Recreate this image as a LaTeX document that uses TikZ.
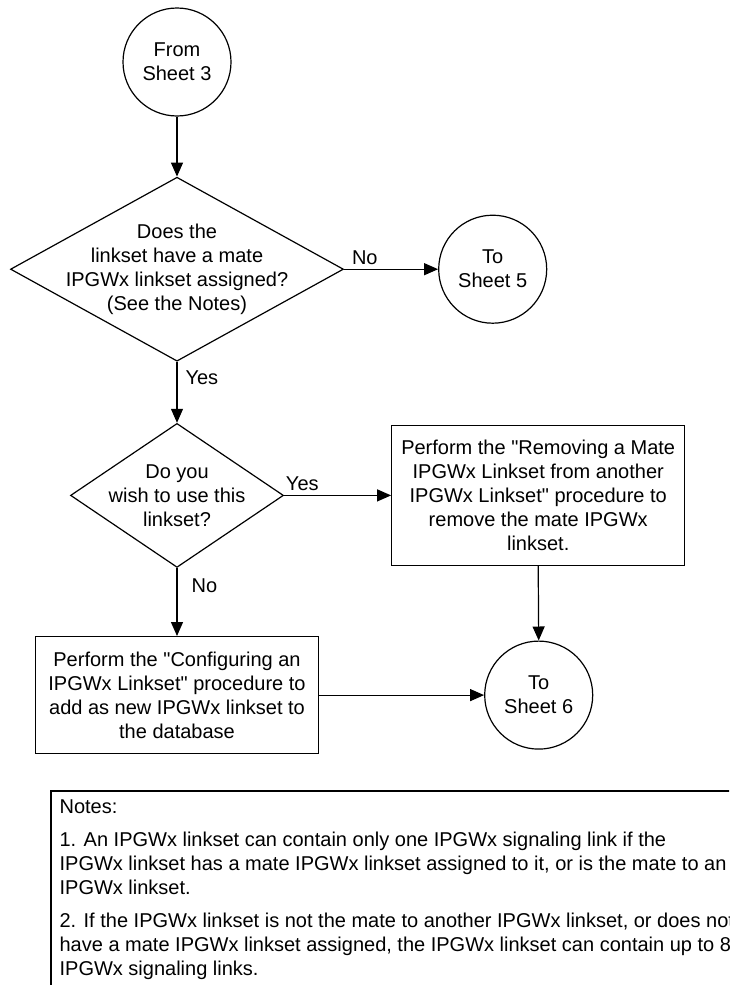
\documentclass[tikz,border=0pt]{standalone}
\usepackage{fontspec}
\setmainfont{Liberation Sans}[Ligatures=TeXOff]
\usetikzlibrary{positioning,arrows.meta,shapes.geometric}

\begin{document}
\begin{tikzpicture}[x=0.5pt, y=-0.5pt, font=\fontsize{10}{12}\selectfont, line width=0.6pt,
    sheet/.style={draw, circle, minimum size=54pt, inner sep=0pt, align=center},
    decision/.style={draw, diamond, inner sep=0pt},
    proc/.style={draw, rectangle, inner sep=0pt, align=center},
    flow/.style={-{Triangle[length=7pt, width=6pt]}},
    lbl/.style={inner sep=0pt}]
    \clip (0,0) rectangle (729,985);
    \node[sheet] (from) at (177,62) {From\\ Sheet 3};
    \node[decision, minimum width=166.5pt, minimum height=92pt, below=30pt of from,
      label={[align=center]center:Does the\\ linkset have a mate\\ IPGWx linkset assigned?\\ (See the Notes)}] (mate) {};
    \node[sheet, right=47pt of mate] (to5) {To\\ Sheet 5};
    \node[decision, minimum width=106.5pt, minimum height=72pt, below=30.5pt of mate,
      label={[align=center]center:Do you\\ wish to use this\\ linkset?}] (use) {};
    \node[proc, minimum width=146.5pt, minimum height=70pt, right=53.5pt of use] (remove)
      {Perform the "Removing a Mate\\ IPGWx Linkset from another\\ IPGWx Linkset" procedure to\\ remove the mate IPGWx\\ linkset.};
    \node[proc, minimum width=141.5pt, minimum height=58.5pt, below=34pt of use] (config)
      {Perform the "Configuring an\\ IPGWx Linkset" procedure to\\ add as new IPGWx linkset to\\ the database};
    \node[sheet, right=82.5pt of config] (to6) {To\\ Sheet 6};

    \draw[flow] (from) -- (mate);
    \draw[flow] (mate) -- node[lbl, above=2pt, pos=0.22] {No} (to5);
    \draw[flow] (mate) -- node[lbl, right=4pt, pos=0.26] {Yes} (use);
    \draw[flow] (use) -- node[lbl, above=2pt, pos=0.17] {Yes} (remove);
    \draw[flow] (use) -- node[lbl, right=7pt, pos=0.26] {No} (config);
    \draw[flow] (remove.south) -- (to6.north);
    \draw[flow] (config) -- (to6);

    % notes
    \node[anchor=north west, align=left, inner sep=0pt] (notes) at (59,799)
      {Notes:\\[4.5pt]
       1. An IPGWx linkset can contain only one IPGWx signaling link if the\\
       IPGWx linkset has a mate IPGWx linkset assigned to it, or is the mate to an\\
       IPGWx linkset.\\[4.5pt]
       2. If the IPGWx linkset is not the mate to another IPGWx linkset, or does not\\
       have a mate IPGWx linkset assigned, the IPGWx linkset can contain up to 8\\
       IPGWx signaling links.};
    \draw ([shift={(-4pt,4pt)}]notes.north west) rectangle +(400pt,-120pt);
\end{tikzpicture}
\end{document}
